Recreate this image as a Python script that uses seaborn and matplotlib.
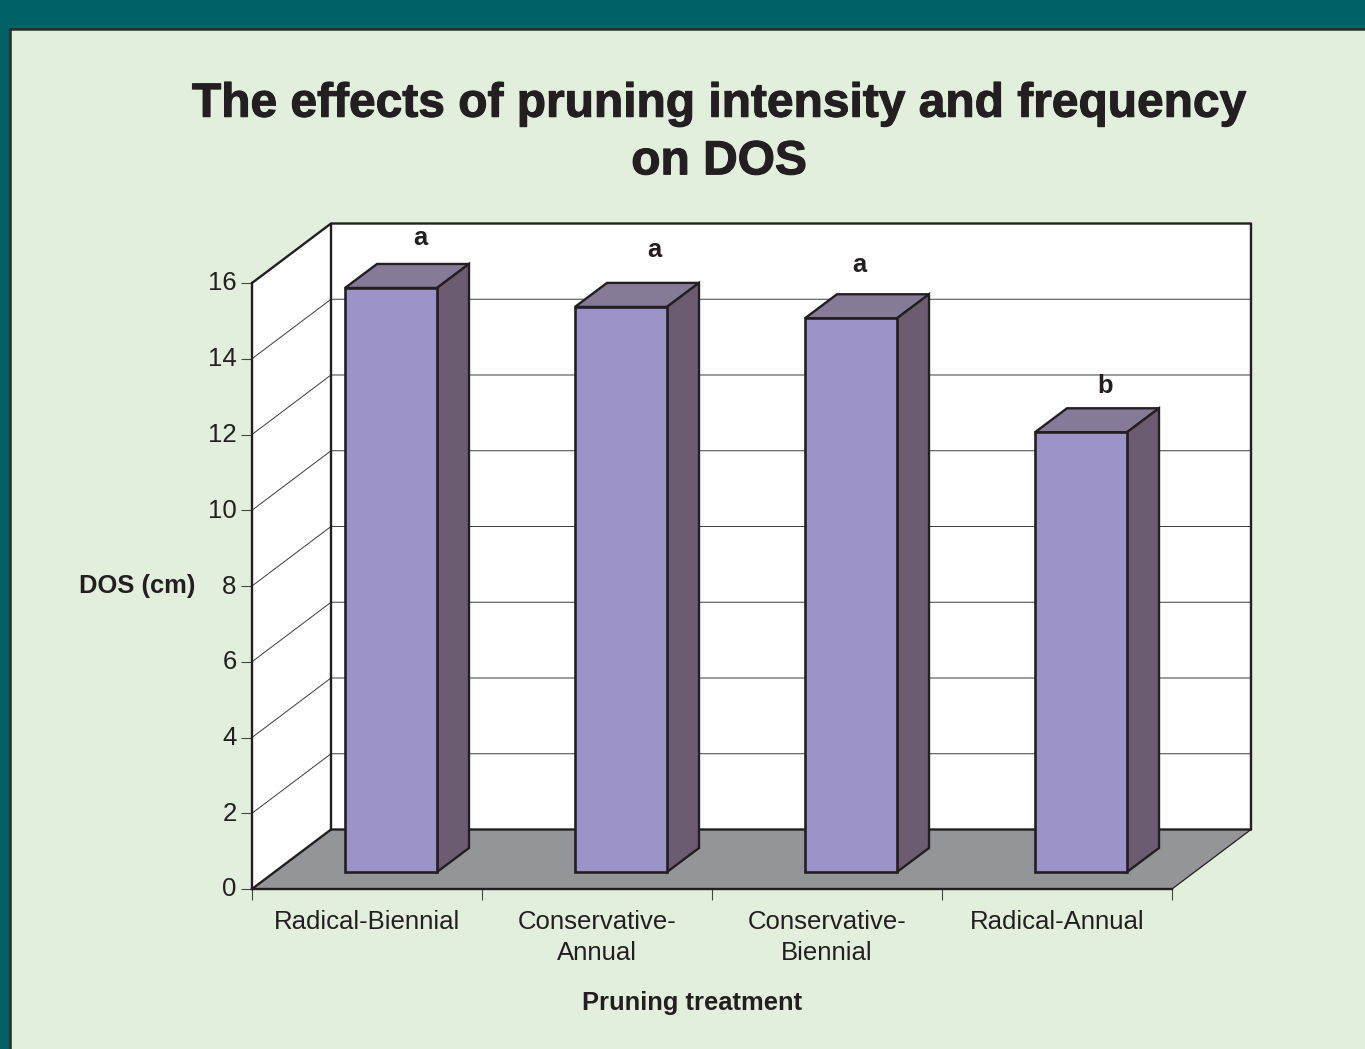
import matplotlib
matplotlib.use('Agg')
import matplotlib.pyplot as plt
from matplotlib.patches import Polygon, Rectangle
from matplotlib.patheffects import withStroke
from matplotlib.transforms import ScaledTranslation
import pandas as pd
import seaborn as sns

treatments = ['Radical-Biennial', 'Conservative-\nAnnual', 'Conservative-\nBiennial', 'Radical-Annual']
dos = [15.42, 14.92, 14.62, 11.61]
letters = ['a', 'a', 'a', 'b']
y_ticks = [0, 2, 4, 6, 8, 10, 12, 14, 16]

W, H = 1365, 1049
INK = '#231f20'
PANEL = '#e3efdd'
TEAL = '#006266'

sns.set_style('white')
plt.rcParams['font.family'] = ['Liberation Sans', 'DejaVu Sans']

df = pd.DataFrame({'treatment': treatments, 'dos': dos})


def box(x0, x1, y_top, y_bottom):
    return [x0 / W, 1 - y_bottom / H, (x1 - x0) / W, (y_bottom - y_top) / H]


fig = plt.figure(figsize=(W / 100, H / 100), dpi=100, facecolor=TEAL)
fig.add_artist(Rectangle((10 / W, -0.01), 1.02, 1 - 29 / H + 0.01, transform=fig.transFigure,
                         facecolor=PANEL, edgecolor='#2b2a29', linewidth=1.8, zorder=-1))

# front plane of the chart box
ax = fig.add_axes(box(252, 1172, 283, 889))
ax.set_xlim(-0.5, 3.5)
ax.set_ylim(0, 16)
ax.patch.set_visible(False)
sx = 920 / 4
sy = 606 / 16
wall_dx = 79 / sx
wall_dy = 59.5 / sy
left, right = -0.5, 3.5


def wall(points, **kw):
    ax.add_patch(Polygon(points, closed=True, clip_on=False, **kw))


wall([(left + wall_dx, wall_dy), (right + wall_dx, wall_dy),
      (right + wall_dx, 16 + wall_dy), (left + wall_dx, 16 + wall_dy)],
     facecolor='white', edgecolor='none', zorder=1)
wall([(left, 0), (left + wall_dx, wall_dy), (left + wall_dx, 16 + wall_dy), (left, 16)],
     facecolor='white', edgecolor='none', zorder=1)
wall([(left, 0), (right, 0), (right + wall_dx, wall_dy), (left + wall_dx, wall_dy)],
     facecolor='#939598', edgecolor='none', zorder=2)

# gridlines go round the side wall and along the back
for v in y_ticks[1:-1]:
    ax.plot([left, left + wall_dx, right + wall_dx], [v, v + wall_dy, v + wall_dy],
            color='#3a3a3a', lw=0.7, zorder=3, clip_on=False)

ax.plot([left, left + wall_dx, right + wall_dx, right + wall_dx],
        [16, 16 + wall_dy, 16 + wall_dy, wall_dy], color=INK, lw=1.7, zorder=4, clip_on=False)
ax.plot([left + wall_dx, left + wall_dx], [wall_dy, 16 + wall_dy], color=INK, lw=1.7, zorder=4, clip_on=False)
ax.plot([left, left + wall_dx, right + wall_dx], [0, wall_dy, wall_dy], color=INK, lw=1.7, zorder=4, clip_on=False)
ax.plot([right, right + wall_dx], [0, wall_dy], color=INK, lw=0.9, zorder=4, clip_on=False)

sns.despine(ax=ax, top=True, right=True)
for side in ['left', 'bottom']:
    ax.spines[side].set_color(INK)
    ax.spines[side].set_linewidth(1.7)
    ax.spines[side].set_zorder(5)

ax.set_yticks(y_ticks)
ax.set_xticks(range(len(treatments)))
ax.set_xticklabels(treatments, fontsize=18.5, color=INK, linespacing=1.38)
ax.set_xticks([-0.5, 0.5, 1.5, 2.5, 3.5], minor=True)
ax.tick_params(axis='x', which='major', length=0, pad=15)
ax.tick_params(axis='x', which='minor', length=8, width=0.8, color='#444444', bottom=True)
ax.tick_params(axis='y', length=8, width=0.8, color='#444444', left=True, pad=3, labelsize=18.5, labelcolor=INK)
ax.set_xlabel('')
ax.set_ylabel('')

# y labels sit a touch above their ticks
up = ScaledTranslation(0, 2 / 100, fig.dpi_scale_trans)
for label in ax.get_yticklabels():
    label.set_transform(label.get_transform() + up)

fig.text(137 / W, 1 - 586 / H, 'DOS (cm)', fontsize=18.4, fontweight='bold', color=INK, ha='center', va='center')
fig.text(692.5 / W, 1 - 1003 / H, 'Pruning treatment', fontsize=18.4, fontweight='bold', color=INK, ha='center', va='center')
fig.text(719 / W, 1 - 133 / H, 'The effects of pruning intensity and frequency\non DOS', fontsize=34.5,
         fontweight='bold', color=INK, ha='center', va='center', linespacing=1.36,
         path_effects=[withStroke(linewidth=0.8, foreground=INK)])

# bars stand a little way behind the front plane
ax_bar = fig.add_axes(box(276, 1196, 266, 872))
ax_bar.patch.set_visible(False)
sns.barplot(data=df, x='treatment', y='dos', color='#9c94c8', saturation=1, width=0.4,
            edgecolor=INK, linewidth=1.9, ax=ax_bar, zorder=3)
ax_bar.set_xlim(-0.5, 3.5)
ax_bar.set_ylim(0, 16)
ax_bar.axis('off')

bar_dx = 32 / sx
bar_dy = 24 / sy
letter_dx = [29 / sx, 33 / sx, 8 / sx, 24 / sx]
letter_dy = [50 / sy, 57 / sy, 53 / sy, 46 / sy]
for i, bar in enumerate(ax_bar.patches):
    bar.set_clip_on(False)
    x0 = bar.get_x()
    x1 = x0 + bar.get_width()
    top = bar.get_height()
    ax_bar.add_patch(Polygon([(x0, top), (x1, top), (x1 + bar_dx, top + bar_dy), (x0 + bar_dx, top + bar_dy)],
                             closed=True, facecolor='#857a98', edgecolor=INK, linewidth=1.7, clip_on=False, zorder=2))
    ax_bar.add_patch(Polygon([(x1, 0), (x1 + bar_dx, bar_dy), (x1 + bar_dx, top + bar_dy), (x1, top)],
                             closed=True, facecolor='#6b5c72', edgecolor=INK, linewidth=1.7, clip_on=False, zorder=2))
    ax_bar.text(i + letter_dx[i], top + letter_dy[i], letters[i], fontsize=18.4, fontweight='bold',
                color=INK, ha='center', va='center', clip_on=False)

fig.savefig('out.png', dpi=100, facecolor=fig.get_facecolor())
